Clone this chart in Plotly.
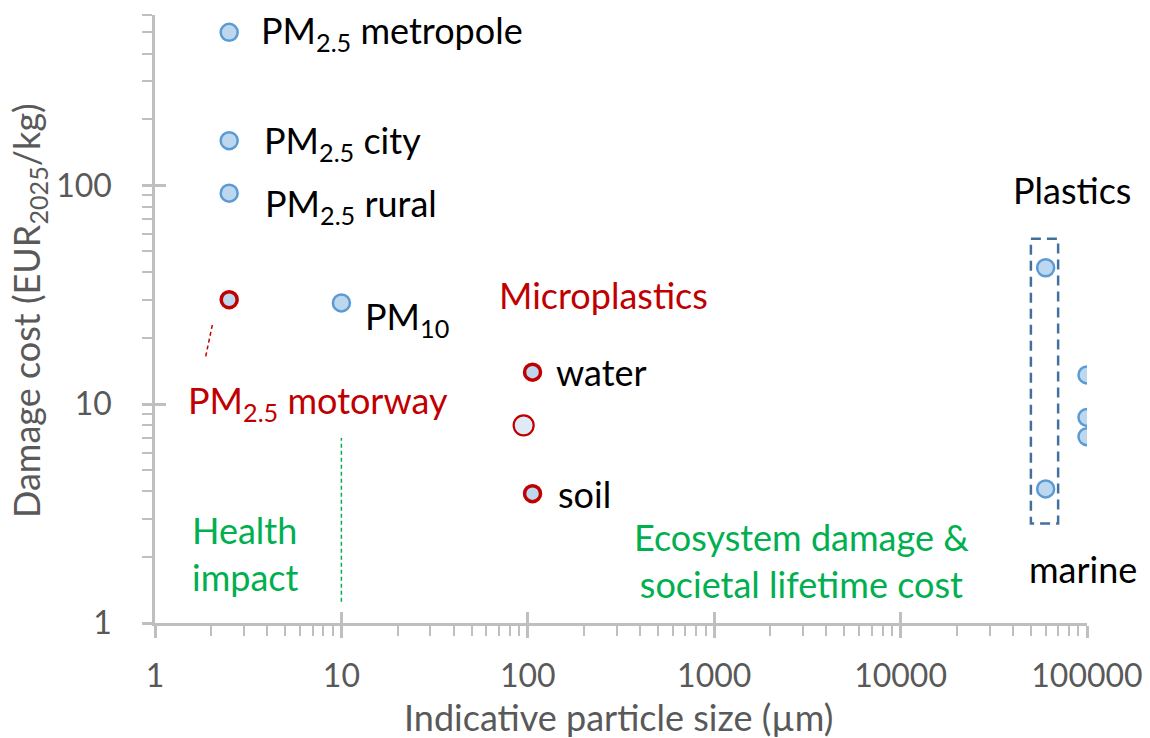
import math
import plotly.graph_objects as go

# ---------------- data ----------------
pm_labels = ["PM<sub>2.5</sub> metropole", "PM<sub>2.5</sub> city", "PM<sub>2.5</sub> rural", "PM<sub>10</sub>"]
pm_size = [2.5, 2.5, 2.5, 10]
pm_cost = [500, 160, 92, 29]

motorway_size = [2.5]
motorway_cost = [30]

micro_labels = ["water", "soil"]
micro_size = [106, 106]
micro_cost = [14, 3.9]

micro_mid_size = [95]
micro_mid_cost = [8]

plastics_box_size = [60000, 60000]
plastics_box_cost = [42, 4.1]

plastics_marine_size = [100000, 100000, 100000]
plastics_marine_cost = [13.6, 8.7, 7.1]

# helper lines / box (in data units)
health_line_x = [10, 10]
health_line_y = [1.25, 7.0]
motorway_line_x = [2.03, 1.87]
motorway_line_y = [23, 16.5]
box_x = [50000, 70000, 70000, 50000, 50000]
box_y = [57, 57, 2.85, 2.85, 57]

x_ticks = [1, 10, 100, 1000, 10000, 100000]
y_ticks = [1, 10, 100]

x_title = "Indicative particle size (µm)"
y_title = "Damage cost (EUR<sub>2025</sub>/kg)"

# ---------------- style ----------------
FONT = "Lato"
FS = 36
TFS = 32
BLUE_FILL = "#BDD7EE"
BLUE_LINE = "#5B9BD5"
RED = "#C00000"
GREEN = "#00B050"
AXIS = "#BFBFBF"
LABEL = "#595959"
CLEAR = "rgba(0,0,0,0)"

W, H = 1150, 738
L, R, T, B = 155, 63, 15, 115
Y_RANGE = [0, math.log10(600)]
X_RANGE = [0, 5]


def px_x(p):
    return (p - L) / (W - L - R)


def px_y(p):
    return (H - B - p) / (H - T - B)


fig = go.Figure()

# helper lines
fig.add_trace(go.Scatter(x=health_line_x, y=health_line_y, mode="lines",
                         line=dict(color=GREEN, width=1.5, dash="4px,3px"),
                         hoverinfo="skip", showlegend=False))
fig.add_trace(go.Scatter(x=motorway_line_x, y=motorway_line_y, mode="lines",
                         line=dict(color=RED, width=1.5, dash="4px,3px"),
                         hoverinfo="skip", showlegend=False))
fig.add_trace(go.Scatter(x=box_x, y=box_y, mode="lines",
                         line=dict(color="#41719C", width=2.5, dash="10px,6px"),
                         hoverinfo="skip", showlegend=False))

blue_marker = dict(size=17, color=BLUE_FILL, line=dict(color=BLUE_LINE, width=2.5))
red_marker = dict(size=16, color=BLUE_FILL, line=dict(color=RED, width=3.5))

fig.add_trace(go.Scatter(x=pm_size, y=pm_cost, mode="markers", marker=blue_marker,
                         showlegend=False, hoverinfo="skip"))
fig.add_trace(go.Scatter(x=motorway_size, y=motorway_cost, mode="markers", marker=red_marker,
                         showlegend=False, hoverinfo="skip"))
fig.add_trace(go.Scatter(x=micro_size, y=micro_cost, mode="markers", marker=red_marker,
                         showlegend=False, hoverinfo="skip"))
fig.add_trace(go.Scatter(x=micro_mid_size, y=micro_mid_cost, mode="markers",
                         marker=dict(size=20, color="#DEEBF7", line=dict(color=RED, width=2.2)),
                         showlegend=False, hoverinfo="skip"))
fig.add_trace(go.Scatter(x=plastics_box_size, y=plastics_box_cost, mode="markers", marker=blue_marker,
                         showlegend=False, hoverinfo="skip"))
fig.add_trace(go.Scatter(x=plastics_marine_size, y=plastics_marine_cost, mode="markers", marker=blue_marker,
                         showlegend=False, hoverinfo="skip"))
# dummy traces for overlay axes (major ticks crossing the axis lines)
fig.add_trace(go.Scatter(x=[None], y=[None], xaxis="x2", yaxis="y2", showlegend=False, hoverinfo="skip"))
fig.add_trace(go.Scatter(x=[None], y=[None], xaxis="x2", yaxis="y3", showlegend=False, hoverinfo="skip"))

ann = []
# point labels
pm_shift = [(30, 0), (33, -2), (34, -12), (22, -16)]
for lab, xv, yv, (dx, dy) in zip(pm_labels, pm_size, pm_cost, pm_shift):
    ann.append(dict(x=math.log10(xv), y=math.log10(yv), xref="x", yref="y", text=lab,
                    showarrow=False, xanchor="left", yanchor="middle", xshift=dx, yshift=dy,
                    font=dict(family=FONT, size=FS, color="#000000")))
micro_shift = [(21, 0), (23, 0)]
for lab, xv, yv, (dx, dy) in zip(micro_labels, micro_size, micro_cost, micro_shift):
    ann.append(dict(x=math.log10(xv), y=math.log10(yv), xref="x", yref="y", text=lab,
                    showarrow=False, xanchor="left", yanchor="middle", xshift=dx, yshift=dy,
                    font=dict(family=FONT, size=FS, color="#000000")))

free_text = [
    ("PM<sub>2.5</sub> motorway", 186, 402, "left", RED),
    ("Microplastics", 497, 295, "left", RED),
    ("Plastics", 1072, 190, "center", "#000000"),
    ("marine", 1083, 569, "center", "#000000"),
    ("Health<br>impact", 190, 553, "left", GREEN),
    ("Ecosystem damage &amp;<br>societal lifetime cost", 801, 560, "center", GREEN),
]
for txt, xp, yp, anc, col in free_text:
    ann.append(dict(x=px_x(xp), y=px_y(yp), xref="paper", yref="paper", text=txt,
                    showarrow=False, xanchor=anc, yanchor="middle", align=anc,
                    font=dict(family=FONT, size=FS, color=col)))

# axis titles
ann.append(dict(x=px_x(618), y=px_y(717), xref="paper", yref="paper", text=x_title,
                showarrow=False, xanchor="center", yanchor="middle",
                font=dict(family=FONT, size=FS, color=LABEL)))
ann.append(dict(x=px_x(28), y=px_y(311), xref="paper", yref="paper", text=y_title,
                showarrow=False, xanchor="center", yanchor="middle", textangle=-90,
                font=dict(family=FONT, size=FS, color=LABEL)))

minor_common = dict(ticks="outside", ticklen=10, tickwidth=2, tickcolor=AXIS,
                    dtick="D1", showgrid=False)
plain = dict(type="log", showgrid=False, zeroline=False, showline=False, automargin=False,
             showticklabels=False, tickwidth=2.5, tickcolor=AXIS)

fig.update_layout(
    width=W, height=H,
    margin=dict(l=L, r=R, t=T, b=B, autoexpand=False),
    plot_bgcolor="white", paper_bgcolor="white",
    font=dict(family=FONT, size=FS, color=LABEL),
    xaxis=dict(type="log", range=X_RANGE, tickvals=x_ticks, ticktext=[str(v) for v in x_ticks],
               showgrid=False, zeroline=False, showline=True, automargin=False,
               linecolor=AXIS, linewidth=2.5, ticks="outside", ticklen=12,
               tickwidth=2.5, tickcolor=AXIS, ticklabelstandoff=11,
               tickfont=dict(family=FONT, size=TFS, color=LABEL), minor=minor_common),
    # main y axis: transparent long ticks push the labels away from the line
    yaxis=dict(type="log", range=Y_RANGE, tickvals=y_ticks, ticktext=[str(v) for v in y_ticks],
               showgrid=False, zeroline=False, showline=True, automargin=False,
               linecolor=AXIS, linewidth=2.5, ticks="outside", ticklen=34,
               tickwidth=2.5, tickcolor=CLEAR,
               tickfont=dict(family=FONT, size=TFS, color=LABEL), minor=minor_common),
    xaxis2=dict(**plain, range=X_RANGE, overlaying="x", anchor="y2", side="bottom",
                ticks="inside", ticklen=11, tickvals=x_ticks),
    yaxis2=dict(**plain, range=Y_RANGE, overlaying="y", anchor="x2", side="left",
                ticks="inside", ticklen=11, tickvals=y_ticks),
    yaxis3=dict(**plain, range=Y_RANGE, overlaying="y", anchor="x2", side="left",
                ticks="outside", ticklen=12, tickvals=y_ticks),
    annotations=ann,
    hovermode=False,
)

fig.write_html("out.html", config={"displayModeBar": False},
               post_script="document.body.style.margin='0';document.body.style.overflow='hidden';")
